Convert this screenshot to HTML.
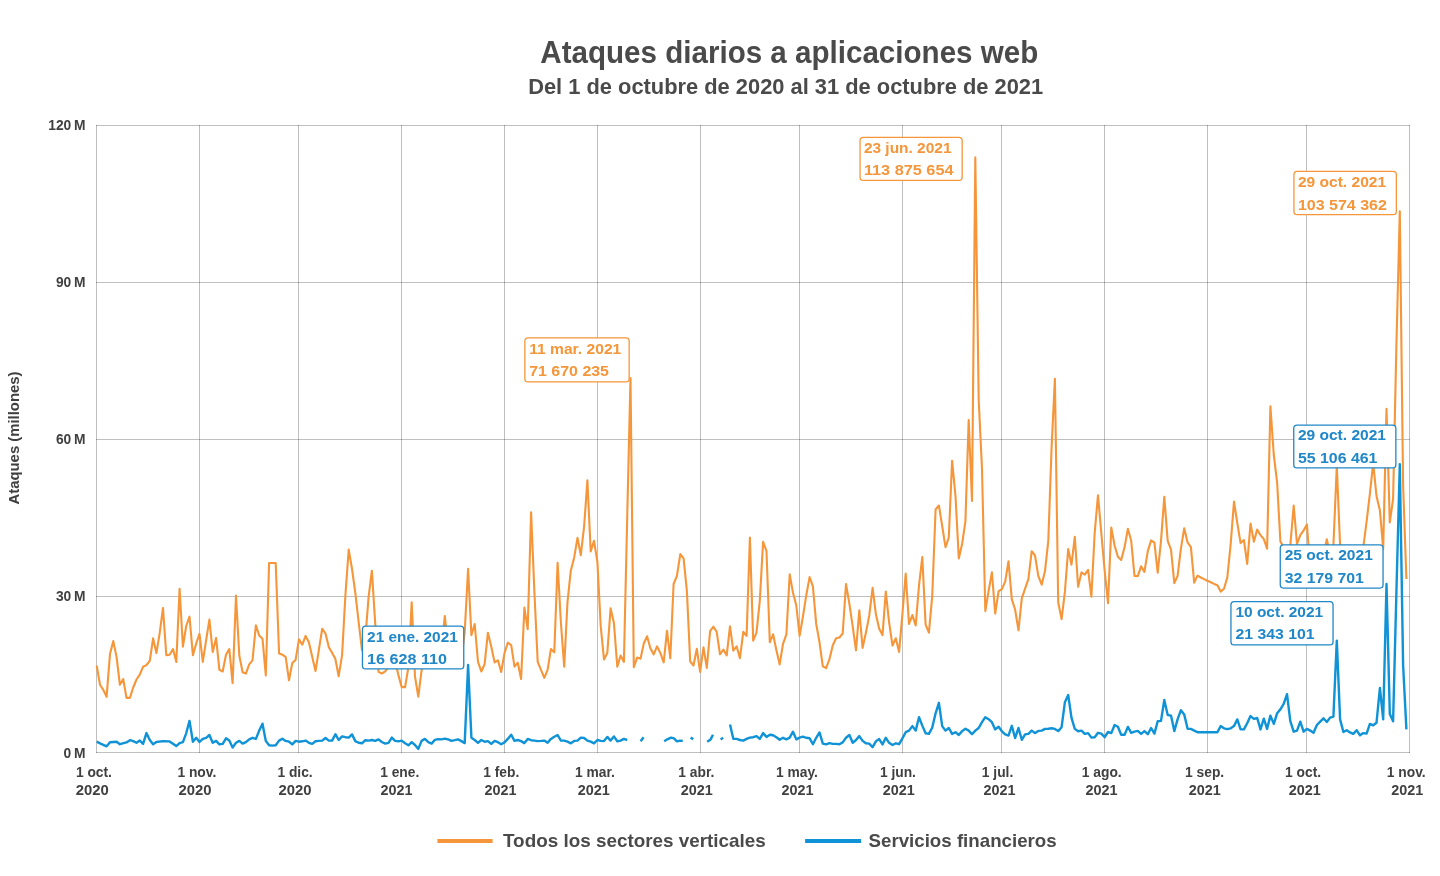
<!DOCTYPE html>
<html lang="es"><head><meta charset="utf-8"><title>Ataques diarios a aplicaciones web</title>
<style>html,body{margin:0;padding:0;background:#fff}svg{display:block}text{font-family:"Liberation Sans",sans-serif;font-weight:bold}</style></head><body>
<svg width="1440" height="876" viewBox="0 0 1440 876">
<rect width="1440" height="876" fill="#fff"/>
<text x="540.3" y="63.3" font-size="31" fill="#4a4a4a" textLength="498" lengthAdjust="spacingAndGlyphs">Ataques diarios a aplicaciones web</text>
<text x="528.2" y="94.4" font-size="22.3" fill="#4a4a4a" textLength="515" lengthAdjust="spacingAndGlyphs">Del 1 de octubre de 2020 al 31 de octubre de 2021</text>
<path d="M96.5 124.9V753.0M199.5 124.9V753.0M298.5 124.9V753.0M401.5 124.9V753.0M504.5 124.9V753.0M597.5 124.9V753.0M700.5 124.9V753.0M799.5 124.9V753.0M902.5 124.9V753.0M1001.5 124.9V753.0M1104.5 124.9V753.0M1207.5 124.9V753.0M1306.5 124.9V753.0M1409.5 124.9V753.0" fill="none" stroke="#000" stroke-opacity="0.25" stroke-width="1"/>
<path d="M96.0 752.5H1410.0M96.0 596.5H1410.0M96.0 439.5H1410.0M96.0 282.5H1410.0M96.0 125.5H1410.0" fill="none" stroke="#000" stroke-opacity="0.25" stroke-width="1"/>
<text x="85.5" y="757.6" text-anchor="end" font-size="13.8" fill="#404040">0 M</text>
<text x="85.5" y="600.7" text-anchor="end" font-size="13.8" fill="#404040">30 M</text>
<text x="85.5" y="443.9" text-anchor="end" font-size="13.8" fill="#404040">60 M</text>
<text x="85.5" y="287.0" text-anchor="end" font-size="13.8" fill="#404040">90 M</text>
<text x="85.5" y="130.2" text-anchor="end" font-size="13.8" fill="#404040">120 M</text>
<text transform="translate(18.6 438) rotate(-90)" text-anchor="middle" font-size="13.8" fill="#404040" textLength="133" lengthAdjust="spacingAndGlyphs">Ataques (millones)</text>
<text x="75.9" y="777.4" font-size="13.8" fill="#404040">1 oct.</text>
<text x="75.7" y="795.2" font-size="13.8" fill="#404040" textLength="33" lengthAdjust="spacingAndGlyphs">2020</text>
<text x="177.4" y="777.4" font-size="13.8" fill="#404040">1 nov.</text>
<text x="178.5" y="795.2" font-size="13.8" fill="#404040" textLength="33" lengthAdjust="spacingAndGlyphs">2020</text>
<text x="277.4" y="777.4" font-size="13.8" fill="#404040">1 dic.</text>
<text x="278.5" y="795.2" font-size="13.8" fill="#404040" textLength="33" lengthAdjust="spacingAndGlyphs">2020</text>
<text x="380.2" y="777.4" font-size="13.8" fill="#404040">1 ene.</text>
<text x="380.6" y="795.2" font-size="13.8" fill="#404040" textLength="32" lengthAdjust="spacingAndGlyphs">2021</text>
<text x="483.2" y="777.4" font-size="13.8" fill="#404040">1 feb.</text>
<text x="484.5" y="795.2" font-size="13.8" fill="#404040" textLength="32" lengthAdjust="spacingAndGlyphs">2021</text>
<text x="575.0" y="777.4" font-size="13.8" fill="#404040">1 mar.</text>
<text x="577.8" y="795.2" font-size="13.8" fill="#404040" textLength="32" lengthAdjust="spacingAndGlyphs">2021</text>
<text x="678.3" y="777.4" font-size="13.8" fill="#404040">1 abr.</text>
<text x="680.8" y="795.2" font-size="13.8" fill="#404040" textLength="32" lengthAdjust="spacingAndGlyphs">2021</text>
<text x="776.0" y="777.4" font-size="13.8" fill="#404040">1 may.</text>
<text x="781.6" y="795.2" font-size="13.8" fill="#404040" textLength="32" lengthAdjust="spacingAndGlyphs">2021</text>
<text x="879.9" y="777.4" font-size="13.8" fill="#404040">1 jun.</text>
<text x="882.8" y="795.2" font-size="13.8" fill="#404040" textLength="32" lengthAdjust="spacingAndGlyphs">2021</text>
<text x="981.8" y="777.4" font-size="13.8" fill="#404040">1 jul.</text>
<text x="983.5" y="795.2" font-size="13.8" fill="#404040" textLength="32" lengthAdjust="spacingAndGlyphs">2021</text>
<text x="1081.8" y="777.4" font-size="13.8" fill="#404040">1 ago.</text>
<text x="1085.5" y="795.2" font-size="13.8" fill="#404040" textLength="32" lengthAdjust="spacingAndGlyphs">2021</text>
<text x="1185.1" y="777.4" font-size="13.8" fill="#404040">1 sep.</text>
<text x="1188.8" y="795.2" font-size="13.8" fill="#404040" textLength="32" lengthAdjust="spacingAndGlyphs">2021</text>
<text x="1285.1" y="777.4" font-size="13.8" fill="#404040">1 oct.</text>
<text x="1288.8" y="795.2" font-size="13.8" fill="#404040" textLength="32" lengthAdjust="spacingAndGlyphs">2021</text>
<text x="1386.8" y="777.4" font-size="13.8" fill="#404040">1 nov.</text>
<text x="1391.2" y="795.2" font-size="13.8" fill="#404040" textLength="32" lengthAdjust="spacingAndGlyphs">2021</text>
<path d="M96.7 665.6L100.0 684.8L103.3 689.9L106.6 696.8L110.0 653.9L113.3 641.1L116.6 657.1L119.9 684.8L123.2 679.0L126.5 697.9L129.9 697.9L133.2 687.5L136.5 679.5L139.8 674.7L143.1 666.7L146.4 665.1L149.8 660.8L153.1 638.4L156.4 653.1L159.7 633.1L163.0 608.0L166.3 655.2L169.6 654.7L173.0 649.1L176.3 661.9L179.6 588.9L182.9 646.7L186.2 626.0L189.5 616.7L192.9 655.2L196.2 643.5L199.5 633.9L202.8 661.9L206.1 640.3L209.4 619.6L212.7 651.9L216.1 637.9L219.4 669.9L222.7 671.5L226.0 654.7L229.3 649.1L232.6 683.2L236.0 595.6L239.3 655.5L242.6 672.3L245.9 673.6L249.2 664.3L252.5 660.3L255.9 625.2L259.2 635.5L262.5 638.7L265.8 675.5L269.1 563.0L272.4 563.0L275.7 563.0L279.1 653.5L282.4 654.7L285.7 657.1L289.0 680.3L292.3 663.1L295.6 659.9L299.0 639.4L302.3 644.7L305.6 635.9L308.9 642.3L312.2 656.7L315.5 671.1L318.8 650.3L322.2 628.7L325.5 633.5L328.8 647.1L332.1 652.7L335.4 659.1L338.7 676.2L342.1 655.1L345.4 595.2L348.7 549.6L352.0 568.8L355.3 592.8L358.6 621.5L362.0 650.3L365.3 639.1L368.6 596.8L371.9 570.7L375.2 623.1L378.5 671.9L381.8 673.5L385.2 671.4L388.5 667.1L391.8 663.9L395.1 660.8L398.4 675.1L401.7 687.1L405.1 687.1L408.4 667.1L411.7 602.4L415.0 676.7L418.3 696.7L421.6 670.3L424.9 660.8L428.3 648.0L431.6 656.0L434.9 667.1L438.2 660.8L441.5 648.0L444.8 616.0L448.2 648.0L451.5 663.9L454.8 656.0L458.1 667.1L461.4 660.8L464.7 632.0L468.1 568.8L471.4 635.2L474.7 624.0L478.0 661.9L481.3 671.5L484.6 664.3L487.9 632.7L491.3 646.7L494.6 662.4L497.9 660.3L501.2 672.0L504.5 653.1L507.8 642.7L511.2 645.1L514.5 666.7L517.8 662.7L521.1 679.0L524.4 607.6L527.7 629.2L531.1 512.3L534.4 592.0L537.7 661.9L541.0 669.9L544.3 677.9L547.6 669.9L550.9 649.1L554.3 652.3L557.6 562.7L560.9 622.7L564.2 666.7L567.5 602.0L570.8 570.7L574.2 557.4L577.5 537.9L580.8 555.2L584.1 526.7L587.4 480.4L590.7 551.5L594.0 540.8L597.4 561.9L600.7 626.0L604.0 659.5L607.3 653.1L610.6 608.4L613.9 622.8L617.3 666.7L620.6 655.5L623.9 661.9L627.2 518.0L630.5 378.1L633.8 667.2L637.2 657.6L640.5 658.7L643.8 643.5L647.1 636.3L650.4 648.3L653.7 654.4L657.0 646.4L660.4 653.1L663.7 662.3L667.0 630.8L670.3 658.3L673.6 584.0L676.9 576.0L680.3 554.1L683.6 558.4L686.9 591.2L690.2 661.5L693.5 665.5L696.8 648.7L700.1 671.9L703.5 647.4L706.8 667.9L710.1 631.1L713.4 626.7L716.7 631.9L720.0 654.3L723.4 649.5L726.7 655.4L730.0 626.3L733.3 650.6L736.6 646.3L739.9 658.3L743.3 631.9L746.6 635.9L749.9 537.6L753.2 640.7L756.5 632.7L759.8 600.8L763.1 541.9L766.5 551.2L769.8 642.3L773.1 634.3L776.4 650.3L779.7 664.4L783.0 643.9L786.4 634.3L789.7 574.4L793.0 592.8L796.3 605.5L799.6 635.9L802.9 616.7L806.3 595.2L809.6 577.1L812.9 586.4L816.2 623.9L819.5 642.3L822.8 666.3L826.1 668.2L829.5 659.1L832.8 645.2L836.1 638.3L839.4 637.5L842.7 633.5L846.0 584.0L849.4 603.9L852.7 626.3L856.0 650.3L859.3 610.3L862.6 647.9L865.9 632.7L869.2 615.9L872.6 587.9L875.9 614.3L879.2 628.7L882.5 635.1L885.8 591.6L889.1 622.3L892.5 645.5L895.8 638.3L899.1 651.9L902.4 614.3L905.7 573.6L909.0 623.9L912.4 615.1L915.7 625.5L919.0 585.5L922.3 557.1L925.6 624.7L928.9 632.7L932.2 596.7L935.6 509.5L938.9 505.5L942.2 526.0L945.5 547.2L948.8 537.6L952.1 460.7L955.5 496.0L958.8 558.4L962.1 544.0L965.4 521.5L968.7 420.0L972.0 501.0L975.3 157.4L978.7 400.0L982.0 468.7L985.3 611.1L988.6 591.1L991.9 572.4L995.2 613.5L998.6 591.1L1001.9 589.1L1005.2 581.6L1008.5 561.2L1011.8 599.1L1015.1 609.5L1018.5 630.3L1021.8 598.3L1025.1 588.7L1028.4 579.2L1031.7 551.2L1035.0 555.5L1038.3 575.9L1041.7 584.7L1045.0 571.1L1048.3 540.8L1051.6 447.0L1054.9 378.9L1058.2 602.3L1061.6 619.1L1064.9 591.9L1068.2 549.1L1071.5 564.7L1074.8 536.8L1078.1 586.8L1081.5 572.4L1084.8 574.6L1088.1 569.8L1091.4 596.7L1094.7 532.8L1098.0 495.2L1101.3 532.8L1104.7 571.1L1108.0 603.1L1111.3 527.6L1114.6 545.5L1117.9 556.7L1121.2 559.9L1124.6 547.1L1127.9 528.8L1131.2 540.8L1134.5 575.9L1137.8 576.2L1141.1 566.3L1144.4 571.9L1147.8 551.1L1151.1 540.4L1154.4 542.7L1157.7 572.7L1161.0 540.8L1164.3 496.8L1167.7 540.8L1171.0 549.5L1174.3 583.1L1177.6 575.9L1180.9 548.7L1184.2 528.3L1187.6 542.4L1190.9 547.1L1194.2 582.6L1197.5 575.6L1200.8 577.5L1204.1 579.1L1207.4 580.7L1210.8 582.3L1214.1 583.9L1217.4 585.2L1220.7 591.6L1224.0 588.7L1227.3 577.5L1230.7 543.9L1234.0 501.6L1237.3 523.2L1240.6 543.1L1243.9 540.0L1247.2 563.9L1250.5 523.5L1253.9 541.6L1257.2 529.6L1260.5 535.2L1263.8 539.2L1267.1 548.7L1270.4 406.4L1273.8 455.0L1277.1 482.3L1280.4 541.6L1283.7 547.1L1287.0 550.3L1290.3 545.5L1293.7 505.6L1297.0 543.9L1300.3 535.2L1303.6 530.4L1306.9 524.4L1310.2 567.9L1313.5 559.9L1316.9 563.1L1320.2 556.7L1323.5 555.1L1326.8 539.2L1330.1 555.1L1333.4 545.5L1336.8 466.0L1340.1 545.5L1343.4 559.9L1346.7 563.1L1350.0 556.7L1353.3 561.5L1356.6 555.1L1360.0 559.9L1363.3 547.1L1366.6 521.6L1369.9 493.6L1373.2 463.0L1376.5 496.0L1379.9 510.4L1383.2 548.7L1386.5 408.8L1389.8 522.4L1393.1 499.2L1396.4 345.0L1399.8 211.3L1403.1 485.0L1406.4 579.0" fill="none" stroke="#f5963a" stroke-width="2.1" stroke-linejoin="round" stroke-linecap="butt"/>
<path d="M96.7 741.7L100.0 743.3L106.6 746.3L110.0 742.2L116.6 741.7L119.9 744.2L126.5 742.4L129.9 740.2L133.2 741.1L136.5 742.8L139.8 740.6L143.1 743.9L146.4 733.1L149.8 740.0L153.1 744.2L156.4 742.0L163.0 741.1L169.6 741.4L176.3 746.1L179.6 743.1L182.9 742.2L186.2 733.3L189.5 720.9L192.9 741.7L196.2 737.8L199.5 742.0L202.8 738.9L206.1 737.8L209.4 735.0L212.7 742.8L216.1 740.9L219.4 744.4L222.7 743.9L226.0 738.3L229.3 740.6L232.6 747.6L236.0 742.8L239.3 740.9L242.6 743.6L245.9 742.1L249.2 739.4L252.5 737.8L255.9 738.9L259.2 730.6L262.5 723.7L265.8 740.9L269.1 745.3L272.4 745.6L275.7 745.3L279.1 740.6L282.4 738.7L285.7 740.9L289.0 741.7L292.3 744.4L295.6 740.9L299.0 741.7L302.3 741.3L305.6 740.6L308.9 742.8L312.2 743.9L315.5 741.3L318.8 740.9L322.2 740.6L325.5 738.0L328.8 740.6L332.1 740.6L335.4 734.2L338.7 740.0L342.1 736.4L345.4 737.2L348.7 737.6L352.0 734.4L355.3 741.1L358.6 742.8L362.0 743.3L365.3 740.2L368.6 740.6L371.9 740.0L375.2 740.9L378.5 739.4L381.8 742.0L385.2 743.6L388.5 742.8L391.8 737.6L395.1 740.9L398.4 741.3L401.7 740.6L405.1 743.3L408.4 745.3L411.7 742.2L415.0 745.0L418.3 748.9L421.6 740.9L424.9 738.9L428.3 742.2L431.6 743.6L434.9 739.8L438.2 739.1L441.5 739.4L444.8 738.7L448.2 739.4L451.5 740.9L454.8 740.2L458.1 739.4L461.4 741.1L464.7 743.1L468.1 665.0L471.4 737.8L474.7 740.0L478.0 742.8L481.3 740.0L484.6 741.7L487.9 741.1L491.3 743.9L494.6 740.9L497.9 742.2L501.2 744.2L504.5 742.4L507.8 738.9L511.2 734.7L514.5 740.9L517.8 740.0L521.1 741.1L524.4 743.1L527.7 738.9L531.1 740.2L534.4 740.6L537.7 741.1L541.0 740.9L544.3 740.6L547.6 742.8L550.9 738.9L554.3 736.7L557.6 735.0L560.9 740.6L564.2 740.6L567.5 741.7L570.8 743.3L574.2 740.9L577.5 740.6L580.8 737.6L584.1 738.0L587.4 740.6L590.7 741.7L594.0 743.3L597.4 740.0L600.7 740.9L604.0 741.1L607.3 736.9L610.6 740.6L613.9 736.4L617.3 741.3L620.6 740.6L623.9 738.9L627.2 740.0" fill="none" stroke="#0f93d6" stroke-width="2.4" stroke-linejoin="round" stroke-linecap="butt"/>
<path d="M640.6 741.3L643.6 737.2" fill="none" stroke="#0f93d6" stroke-width="2.4" stroke-linejoin="round" stroke-linecap="butt"/>
<path d="M664.2 741.3L667.8 739.1L671.1 737.6L673.9 738.3L676.9 741.3L680.0 740.6L682.8 740.9" fill="none" stroke="#0f93d6" stroke-width="2.4" stroke-linejoin="round" stroke-linecap="butt"/>
<path d="M707.2 741.7L710.6 739.4L713.0 734.7" fill="none" stroke="#0f93d6" stroke-width="2.4" stroke-linejoin="round" stroke-linecap="butt"/>
<path d="M720.6 739.4L723.1 737.8" fill="none" stroke="#0f93d6" stroke-width="2.4" stroke-linejoin="round" stroke-linecap="butt"/>
<path d="M690.6 737.6L693.3 739.1" fill="none" stroke="#0f93d6" stroke-width="2.4" stroke-linejoin="round" stroke-linecap="butt"/>
<path d="M730.0 724.4L733.3 738.7L736.6 738.9L739.9 740.0L743.3 740.6L746.6 738.9L749.9 737.6L753.2 737.2L756.5 736.1L759.8 738.9L763.1 733.1L766.5 736.9L769.8 734.7L773.1 735.3L776.4 737.2L779.7 739.8L783.0 737.8L786.4 739.4L789.7 737.6L793.0 731.7L796.3 739.4L799.6 737.6L802.9 736.7L806.3 737.8L809.6 738.3L812.9 744.2L816.2 737.8L819.5 732.4L822.8 743.6L826.1 744.4L829.5 743.1L832.8 743.9L836.1 743.9L839.4 744.2L842.7 742.4L846.0 737.8L849.4 735.0L852.7 742.8L856.0 740.0L859.3 736.1L862.6 740.9L865.9 743.3L869.2 743.6L872.6 747.2L875.9 741.3L879.2 739.1L882.5 744.4L885.8 737.8L889.1 742.8L892.5 745.0L895.8 743.3L899.1 744.2L902.4 738.3L905.7 732.2L909.0 730.6L912.4 726.1L915.7 730.6L919.0 717.2L922.3 725.6L925.6 733.3L928.9 733.9L932.2 727.8L935.6 713.3L938.9 702.8L942.2 726.1L945.5 730.6L948.8 728.0L952.1 733.9L955.5 732.2L958.8 735.0L962.1 731.1L965.4 728.7L968.7 730.6L972.0 734.2L975.3 730.6L978.7 728.0L982.0 722.2L985.3 717.2L988.6 719.2L991.9 722.2L995.2 729.4L998.6 726.7L1001.9 731.3L1005.2 734.4L1008.5 735.6L1011.8 725.8L1015.1 738.0L1018.5 728.0L1021.8 739.8L1025.1 734.4L1028.4 733.9L1031.7 730.6L1035.0 733.1L1038.3 730.9L1041.7 730.6L1045.0 728.9L1048.3 728.7L1051.6 728.3L1054.9 728.9L1058.2 731.1L1061.6 727.2L1064.9 702.2L1068.2 695.0L1071.5 717.8L1074.8 728.9L1078.1 731.3L1081.5 730.6L1084.8 733.9L1088.1 733.1L1091.4 737.6L1094.7 737.2L1098.0 732.8L1101.3 733.6L1104.7 737.2L1108.0 732.0L1111.3 733.1L1114.6 725.0L1117.9 726.7L1121.2 734.7L1124.6 734.7L1127.9 726.9L1131.2 732.8L1134.5 731.7L1137.8 730.9L1141.1 733.9L1144.4 731.1L1147.8 734.2L1151.1 728.0L1154.4 733.6L1157.7 721.3L1161.0 720.9L1164.3 700.0L1167.7 715.0L1171.0 715.6L1174.3 731.1L1177.6 719.4L1180.9 710.2L1184.2 714.4L1187.6 728.7L1190.9 728.9L1194.2 730.6L1197.5 732.2L1200.8 732.2L1204.1 732.2L1207.4 732.2L1210.8 732.2L1214.1 732.2L1217.4 732.2L1220.7 726.1L1224.0 728.3L1227.3 729.1L1230.7 728.3L1234.0 726.1L1237.3 719.4L1240.6 729.4L1243.9 729.4L1247.2 723.3L1250.5 716.1L1253.9 718.9L1257.2 718.0L1260.5 729.4L1263.8 718.7L1267.1 728.9L1270.4 715.6L1273.8 723.9L1277.1 713.3L1280.4 709.4L1283.7 703.9L1287.0 694.2L1290.3 721.1L1293.7 731.7L1297.0 730.6L1300.3 721.7L1303.6 731.7L1306.9 728.9L1310.2 730.6L1313.5 732.8L1316.9 725.0L1320.2 721.7L1323.5 718.3L1326.8 722.0L1330.1 717.6L1333.4 716.7L1336.8 640.6L1340.1 719.4L1343.4 732.0L1346.7 730.2L1350.0 732.4L1353.3 733.9L1356.6 730.2L1360.0 735.3L1363.3 733.1L1366.6 733.6L1369.9 723.9L1373.2 725.3L1376.5 722.8L1379.9 688.0L1383.2 719.4L1386.5 584.0L1389.8 713.9L1393.1 721.3L1396.4 592.2L1399.8 464.2L1403.1 665.0L1406.4 729.4" fill="none" stroke="#0f93d6" stroke-width="2.4" stroke-linejoin="round" stroke-linecap="butt"/>
<rect x="524.85" y="337.85" width="104.30" height="44.10" rx="3.2" fill="#fff" stroke="#f5963a" stroke-width="1.3"/>
<text x="529.2" y="353.9" font-size="14" fill="#f5963a" textLength="92.1" lengthAdjust="spacingAndGlyphs">11 mar. 2021</text>
<text x="529.2" y="376.3" font-size="14" fill="#f5963a" textLength="79.8" lengthAdjust="spacingAndGlyphs">71 670 235</text>
<rect x="860.05" y="137.35" width="102.10" height="43.10" rx="3.2" fill="#fff" stroke="#f5963a" stroke-width="1.3"/>
<text x="863.9" y="152.8" font-size="14" fill="#f5963a" textLength="87.6" lengthAdjust="spacingAndGlyphs">23 jun. 2021</text>
<text x="863.9" y="175.2" font-size="14" fill="#f5963a" textLength="89.6" lengthAdjust="spacingAndGlyphs">113 875 654</text>
<rect x="1293.95" y="171.45" width="102.40" height="43.20" rx="3.2" fill="#fff" stroke="#f5963a" stroke-width="1.3"/>
<text x="1297.9" y="187.0" font-size="14" fill="#f5963a" textLength="88.2" lengthAdjust="spacingAndGlyphs">29 oct. 2021</text>
<text x="1297.9" y="209.5" font-size="14" fill="#f5963a" textLength="89.0" lengthAdjust="spacingAndGlyphs">103 574 362</text>
<rect x="362.45" y="626.15" width="101.30" height="42.80" rx="3.2" fill="#fff" stroke="#2087c8" stroke-width="1.3"/>
<text x="367.1" y="641.5" font-size="14" fill="#2087c8" textLength="90.7" lengthAdjust="spacingAndGlyphs">21 ene. 2021</text>
<text x="367.1" y="663.9" font-size="14" fill="#2087c8" textLength="79.8" lengthAdjust="spacingAndGlyphs">16 628 110</text>
<rect x="1293.75" y="425.05" width="102.10" height="42.80" rx="3.2" fill="#fff" stroke="#2087c8" stroke-width="1.3"/>
<text x="1297.9" y="440.4" font-size="14" fill="#2087c8" textLength="88.1" lengthAdjust="spacingAndGlyphs">29 oct. 2021</text>
<text x="1297.9" y="462.8" font-size="14" fill="#2087c8" textLength="79.5" lengthAdjust="spacingAndGlyphs">55 106 461</text>
<rect x="1280.25" y="544.95" width="102.80" height="43.10" rx="3.2" fill="#fff" stroke="#2087c8" stroke-width="1.3"/>
<text x="1284.7" y="560.3" font-size="14" fill="#2087c8" textLength="88.1" lengthAdjust="spacingAndGlyphs">25 oct. 2021</text>
<text x="1284.7" y="583.0" font-size="14" fill="#2087c8" textLength="79.2" lengthAdjust="spacingAndGlyphs">32 179 701</text>
<rect x="1230.95" y="601.65" width="102.10" height="43.30" rx="3.2" fill="#fff" stroke="#2087c8" stroke-width="1.3"/>
<text x="1235.4" y="616.8" font-size="14" fill="#2087c8" textLength="87.8" lengthAdjust="spacingAndGlyphs">10 oct. 2021</text>
<text x="1235.4" y="639.4" font-size="14" fill="#2087c8" textLength="79.2" lengthAdjust="spacingAndGlyphs">21 343 101</text>
<path d="M437.4 840.9H492.6" stroke="#f5963a" stroke-width="4"/>
<text x="503" y="846.6" font-size="19" fill="#4a4a4a" textLength="262.8" lengthAdjust="spacingAndGlyphs">Todos los sectores verticales</text>
<path d="M805.1 840.9H861.1" stroke="#0f93d6" stroke-width="4"/>
<text x="868.5" y="846.6" font-size="19" fill="#4a4a4a" textLength="188.2" lengthAdjust="spacingAndGlyphs">Servicios financieros</text>
</svg></body></html>
